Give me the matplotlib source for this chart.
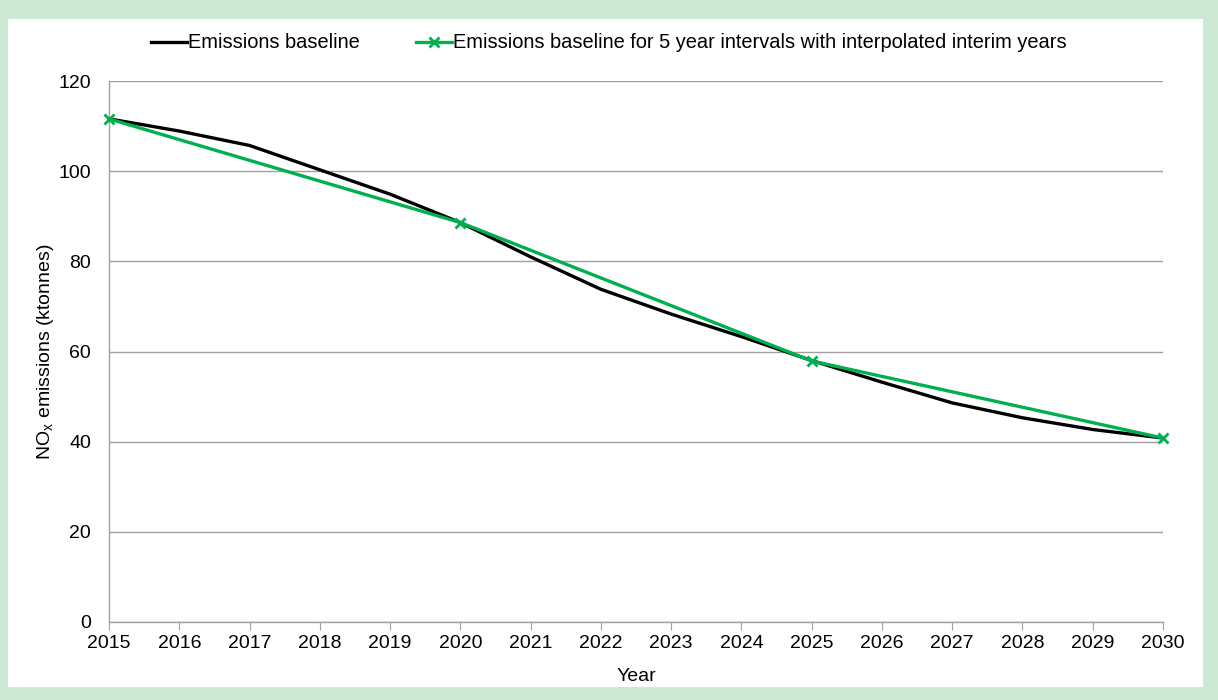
import matplotlib
matplotlib.use("Agg")
import matplotlib.pyplot as plt
from matplotlib.patches import Rectangle

# data
years = [2015, 2016, 2017, 2018, 2019, 2020, 2021, 2022,
         2023, 2024, 2025, 2026, 2027, 2028, 2029, 2030]
baseline = [111.6, 108.9, 105.7, 100.3, 94.9, 88.6, 81.0, 73.8,
            68.3, 63.3, 58.0, 53.2, 48.6, 45.3, 42.7, 40.8]
five_year = [2015, 2020, 2025, 2030]
five_year_vals = [111.6, 88.6, 57.9, 40.8]

plt.rcParams["font.family"] = ["Liberation Sans", "DejaVu Sans"]
plt.rcParams["mathtext.fontset"] = "custom"
plt.rcParams["mathtext.rm"] = "Liberation Sans"
plt.rcParams["mathtext.it"] = "Liberation Sans"

W, H = 1218, 700
fs = 14
fig = plt.figure(figsize=(W / 100, H / 100), dpi=100)
fig.patch.set_facecolor("#cde9d5")
fig.patches.append(Rectangle((8 / W, 13 / H), 1195 / W, 668 / H,
                             transform=fig.transFigure, facecolor="white",
                             edgecolor="none", zorder=-5))

ax = fig.add_axes([109 / W, 78 / H, 1054 / W, 541 / H])
ax.set_facecolor("white")

grid_c = "#a0a0a0"
ax.plot(years, baseline, color="black", lw=2.4, label="Emissions baseline", zorder=3)
ax.plot(five_year, five_year_vals, color="#00b050", lw=2.4, marker="x",
        markersize=7, markeredgewidth=2,
        label="Emissions baseline for 5 year intervals with interpolated interim years",
        zorder=4, clip_on=False)

ax.set_xlim(2015, 2030)
ax.set_ylim(0, 120)
ax.set_xticks(years)
ax.set_yticks(range(0, 121, 20))
ax.yaxis.grid(True, color=grid_c, lw=1)
ax.set_axisbelow(True)
for s in ["top", "right"]:
    ax.spines[s].set_visible(False)
for s in ["left", "bottom"]:
    ax.spines[s].set_color(grid_c)
    ax.spines[s].set_linewidth(1)
ax.tick_params(axis="x", colors=grid_c, labelcolor="black", length=6,
               labelsize=fs, pad=3)
ax.tick_params(axis="y", length=0, labelsize=fs, pad=13)

ax.set_xlabel("Year", fontsize=fs, labelpad=12)
ax.set_ylabel(r"NO$_\mathrm{x}$ emissions (ktonnes)", fontsize=fs)
ax.yaxis.set_label_coords(-0.050, 0.5)

fig.legend(loc="center", bbox_to_anchor=(0.5, 1 - 43 / H), ncol=2,
           frameon=False, fontsize=14.4, handlelength=1.8, handletextpad=0.05,
           columnspacing=2.8)

fig.savefig("out.png", dpi=100, facecolor=fig.get_facecolor())
